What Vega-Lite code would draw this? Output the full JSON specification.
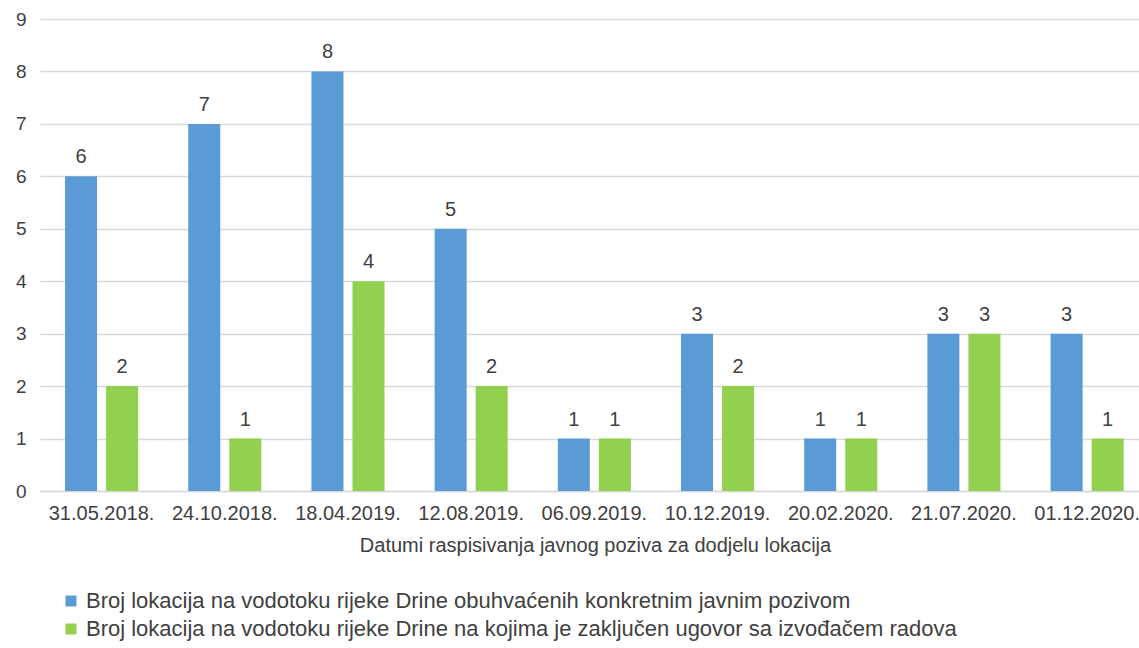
{
  "$schema": "https://vega.github.io/schema/vega-lite/v6.json",
  "autosize": "none",
  "width": 1099,
  "height": 472,
  "padding": {"left": 40, "top": 19, "right": 0, "bottom": 157},
  "background": "white",
  "config": {
    "font": "Liberation Sans",
    "view": {"stroke": null}
  },
  "data": {
    "values": [
      {"datum": "31.05.2018.", "serija": "Broj lokacija na vodotoku rijeke Drine obuhvaćenih konkretnim javnim pozivom", "red": 1, "vrijednost": 6},
      {"datum": "31.05.2018.", "serija": "Broj lokacija na vodotoku rijeke Drine na kojima je zaključen ugovor sa izvođačem radova", "red": 2, "vrijednost": 2},
      {"datum": "24.10.2018.", "serija": "Broj lokacija na vodotoku rijeke Drine obuhvaćenih konkretnim javnim pozivom", "red": 1, "vrijednost": 7},
      {"datum": "24.10.2018.", "serija": "Broj lokacija na vodotoku rijeke Drine na kojima je zaključen ugovor sa izvođačem radova", "red": 2, "vrijednost": 1},
      {"datum": "18.04.2019.", "serija": "Broj lokacija na vodotoku rijeke Drine obuhvaćenih konkretnim javnim pozivom", "red": 1, "vrijednost": 8},
      {"datum": "18.04.2019.", "serija": "Broj lokacija na vodotoku rijeke Drine na kojima je zaključen ugovor sa izvođačem radova", "red": 2, "vrijednost": 4},
      {"datum": "12.08.2019.", "serija": "Broj lokacija na vodotoku rijeke Drine obuhvaćenih konkretnim javnim pozivom", "red": 1, "vrijednost": 5},
      {"datum": "12.08.2019.", "serija": "Broj lokacija na vodotoku rijeke Drine na kojima je zaključen ugovor sa izvođačem radova", "red": 2, "vrijednost": 2},
      {"datum": "06.09.2019.", "serija": "Broj lokacija na vodotoku rijeke Drine obuhvaćenih konkretnim javnim pozivom", "red": 1, "vrijednost": 1},
      {"datum": "06.09.2019.", "serija": "Broj lokacija na vodotoku rijeke Drine na kojima je zaključen ugovor sa izvođačem radova", "red": 2, "vrijednost": 1},
      {"datum": "10.12.2019.", "serija": "Broj lokacija na vodotoku rijeke Drine obuhvaćenih konkretnim javnim pozivom", "red": 1, "vrijednost": 3},
      {"datum": "10.12.2019.", "serija": "Broj lokacija na vodotoku rijeke Drine na kojima je zaključen ugovor sa izvođačem radova", "red": 2, "vrijednost": 2},
      {"datum": "20.02.2020.", "serija": "Broj lokacija na vodotoku rijeke Drine obuhvaćenih konkretnim javnim pozivom", "red": 1, "vrijednost": 1},
      {"datum": "20.02.2020.", "serija": "Broj lokacija na vodotoku rijeke Drine na kojima je zaključen ugovor sa izvođačem radova", "red": 2, "vrijednost": 1},
      {"datum": "21.07.2020.", "serija": "Broj lokacija na vodotoku rijeke Drine obuhvaćenih konkretnim javnim pozivom", "red": 1, "vrijednost": 3},
      {"datum": "21.07.2020.", "serija": "Broj lokacija na vodotoku rijeke Drine na kojima je zaključen ugovor sa izvođačem radova", "red": 2, "vrijednost": 3},
      {"datum": "01.12.2020.", "serija": "Broj lokacija na vodotoku rijeke Drine obuhvaćenih konkretnim javnim pozivom", "red": 1, "vrijednost": 3},
      {"datum": "01.12.2020.", "serija": "Broj lokacija na vodotoku rijeke Drine na kojima je zaključen ugovor sa izvođačem radova", "red": 2, "vrijednost": 1}
    ]
  },
  "encoding": {
    "x": {
      "field": "datum",
      "type": "nominal",
      "sort": null,
      "scale": {"paddingInner": 0.407, "paddingOuter": 0.164, "align": 0.62},
      "axis": {
        "title": "Datumi raspisivanja javnog poziva za dodjelu lokacija",
        "titleFontSize": 20,
        "titleFontWeight": "normal",
        "titleColor": "#404040",
        "titlePadding": 12,
        "titleX": 555,
        "labelAngle": 0,
        "labelFontSize": 20,
        "labelColor": "#404040",
        "labelPadding": 12,
        "ticks": false,
        "domainColor": "#d9d9d9",
        "domainWidth": 1.5
      }
    },
    "xOffset": {"field": "serija", "type": "nominal", "sort": {"field": "red"}, "scale": {"paddingInner": 0.22, "paddingOuter": 0}},
    "y": {
      "field": "vrijednost",
      "type": "quantitative",
      "scale": {"domain": [0, 9], "nice": false},
      "axis": {
        "title": null,
        "values": [0, 1, 2, 3, 4, 5, 6, 7, 8, 9],
        "labelFontSize": 19,
        "labelColor": "#404040",
        "labelPadding": 14,
        "ticks": false,
        "domain": false,
        "gridColor": "#d9d9d9",
        "gridWidth": 1.5
      }
    }
  },
  "layer": [
    {
      "mark": {"type": "bar"},
      "encoding": {
        "color": {
          "field": "serija",
          "type": "nominal",
          "sort": {"field": "red"},
          "scale": {"range": ["#5B9BD5", "#92D050"]},
          "legend": {
            "title": null,
            "orient": "none",
            "legendX": 20,
            "legendY": 571,
            "direction": "vertical",
            "labelFontSize": 22,
            "labelColor": "#404040",
            "labelLimit": 1100,
            "symbolType": "square",
            "symbolSize": 121,
            "symbolStrokeWidth": 0,
            "rowPadding": 6,
            "labelOffset": 4
          }
        }
      }
    },
    {
      "mark": {"type": "text", "baseline": "bottom", "dy": -9, "fontSize": 20, "color": "#404040"},
      "encoding": {
        "text": {"field": "vrijednost", "type": "quantitative"}
      }
    }
  ]
}
